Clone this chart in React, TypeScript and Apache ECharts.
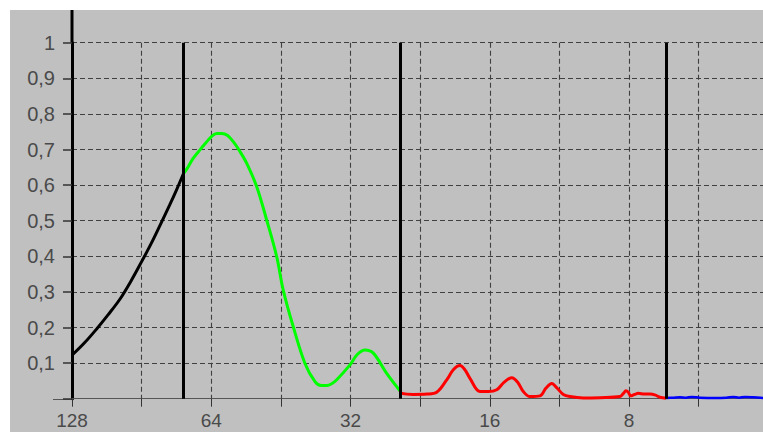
import React, { useEffect, useRef } from 'react';
import * as echarts from 'echarts';

// x values are octaves below period 128 (v = log2(128 / period))
const xTickLabels = ['128', '', '64', '', '32', '', '16', '', '8', '', ''];
const yTickLabels = ['', '0,1', '0,2', '0,3', '0,4', '0,5', '0,6', '0,7', '0,8', '0,9', '1'];

const bandEdges = [0.8, 2.355, 4.266];

const blackCurve = [
  [0, 0.122], [0.09, 0.157], [0.177, 0.196], [0.26, 0.236], [0.345, 0.28], [0.42, 0.328],
  [0.5, 0.385], [0.57, 0.437], [0.632, 0.487], [0.7, 0.543], [0.75, 0.586], [0.8, 0.632],
];

const greenCurve = [
  [0.8, 0.632], [0.824, 0.645], [0.87, 0.675], [0.919, 0.699], [0.96, 0.718], [1.003, 0.737],
  [1.04, 0.745], [1.075, 0.745], [1.115, 0.74], [1.158, 0.722], [1.205, 0.695], [1.255, 0.661],
  [1.326, 0.596], [1.398, 0.502], [1.47, 0.399], [1.517, 0.305], [1.589, 0.202], [1.673, 0.099],
  [1.745, 0.048], [1.79, 0.037], [1.829, 0.037], [1.865, 0.042], [1.901, 0.053], [1.996, 0.095],
  [2.05, 0.125], [2.104, 0.137], [2.164, 0.128], [2.26, 0.071], [2.355, 0.022],
];

const redCurve = [
  [2.355, 0.022], [2.37, 0.015], [2.45, 0.012], [2.55, 0.013], [2.619, 0.018], [2.691, 0.053],
  [2.74, 0.082], [2.786, 0.093], [2.82, 0.082], [2.858, 0.057], [2.93, 0.02], [2.99, 0.02],
  [3.05, 0.025], [3.1, 0.045], [3.158, 0.059], [3.203, 0.045], [3.241, 0.02], [3.289, 0.006],
  [3.361, 0.008], [3.404, 0.03], [3.445, 0.043], [3.483, 0.03], [3.528, 0.012], [3.576, 0.006],
  [3.672, 0.002], [3.792, 0.003], [3.935, 0.006], [3.96, 0.015], [3.978, 0.022], [3.995, 0.018],
  [4.012, 0.008], [4.04, 0.012], [4.067, 0.015], [4.11, 0.013], [4.151, 0.013], [4.19, 0.01],
  [4.223, 0.004], [4.266, 0.001],
];

const blueCurve = [
  [4.266, 0.002], [4.32, 0.003], [4.366, 0.004], [4.41, 0.003], [4.45, 0.005], [4.509, 0.003],
  [4.618, 0.002], [4.7, 0.003], [4.749, 0.005], [4.79, 0.003], [4.833, 0.005], [4.893, 0.004],
  [4.962, 0.002], [5.0, 0.002],
];

const FONT = 'Liberation Sans, Arial, sans-serif';

export default function App() {
  const ref = useRef<HTMLDivElement>(null);

  useEffect(() => {
    const chart = echarts.init(ref.current!, null, { renderer: 'svg' });
    const curve = (name: string, data: number[][], color: string, width: number, extra: any = {}) => ({
      name,
      type: 'line',
      data,
      smooth: 0.35,
      showSymbol: false,
      symbol: 'none',
      lineStyle: { color, width },
      z: 3,
      ...extra,
    });
    chart.setOption({
      animation: false,
      backgroundColor: '#c0c0c0',
      grid: { left: 62, right: 41.75, top: 32.7, bottom: 71.3 },
      xAxis: {
        type: 'value',
        min: 0,
        max: 5,
        interval: 0.5,
        axisLine: { lineStyle: { color: '#555', width: 1 } },
        axisTick: { show: true, length: 8, lineStyle: { color: '#333', width: 1 } },
        axisLabel: {
          margin: 12,
          color: '#4a4a4a',
          fontSize: 19,
          lineHeight: 19,
          fontFamily: FONT,
          showMaxLabel: false,
          formatter: (v: number) => xTickLabels[Math.round(v * 2)] ?? '',
        },
        splitLine: { show: true, lineStyle: { color: '#404040', width: 1.1, type: [5, 3] } },
      },
      yAxis: {
        type: 'value',
        min: 0,
        max: 1,
        interval: 0.1,
        axisLine: { show: true, lineStyle: { color: '#000', width: 3 } },
        axisTick: { show: true, length: 9, lineStyle: { color: '#333', width: 1.5 } },
        axisLabel: {
          margin: 17,
          color: '#4a4a4a',
          fontSize: 20,
          fontFamily: FONT,
          formatter: (v: number) => yTickLabels[Math.round(v * 10)] ?? '',
        },
        splitLine: { show: true, lineStyle: { color: '#404040', width: 1.1, type: [5, 3] } },
      },
      series: [
        curve('black', blackCurve, '#000000', 3, {
          markLine: {
            silent: true,
            symbol: 'none',
            label: { show: false },
            lineStyle: { color: '#000', width: 3, type: 'solid' },
            data: bandEdges.map((e) => [{ coord: [e, 0] }, { coord: [e, 1] }]),
          },
        }),
        curve('green', greenCurve, '#00ff00', 3),
        curve('red', redCurve, '#ff0000', 3),
        curve('blue', blueCurve, '#0000ff', 2.5),
      ],
    });
    const x0 = chart.convertToPixel({ xAxisIndex: 0 }, 0) as number;
    const yTop = chart.convertToPixel({ yAxisIndex: 0 }, 1) as number;
    const yBottom = chart.convertToPixel({ yAxisIndex: 0 }, 0) as number;
    chart.setOption({
      graphic: [
        { type: 'line', shape: { x1: x0, y1: 0, x2: x0, y2: yTop }, style: { stroke: '#000', lineWidth: 3 } },
        { type: 'line', shape: { x1: x0 - 19, y1: Math.round(yBottom) + 0.5, x2: x0, y2: Math.round(yBottom) + 0.5 }, style: { stroke: '#555', lineWidth: 1 } },
      ],
    });
    return () => chart.dispose();
  }, []);

  return (
    <div style={{ position: 'fixed', left: 0, top: 0, width: 763, height: 432, overflow: 'hidden', background: '#fff' }}>
      <div ref={ref} style={{ position: 'absolute', left: 10, top: 10, width: 800, height: 460 }} />
    </div>
  );
}
